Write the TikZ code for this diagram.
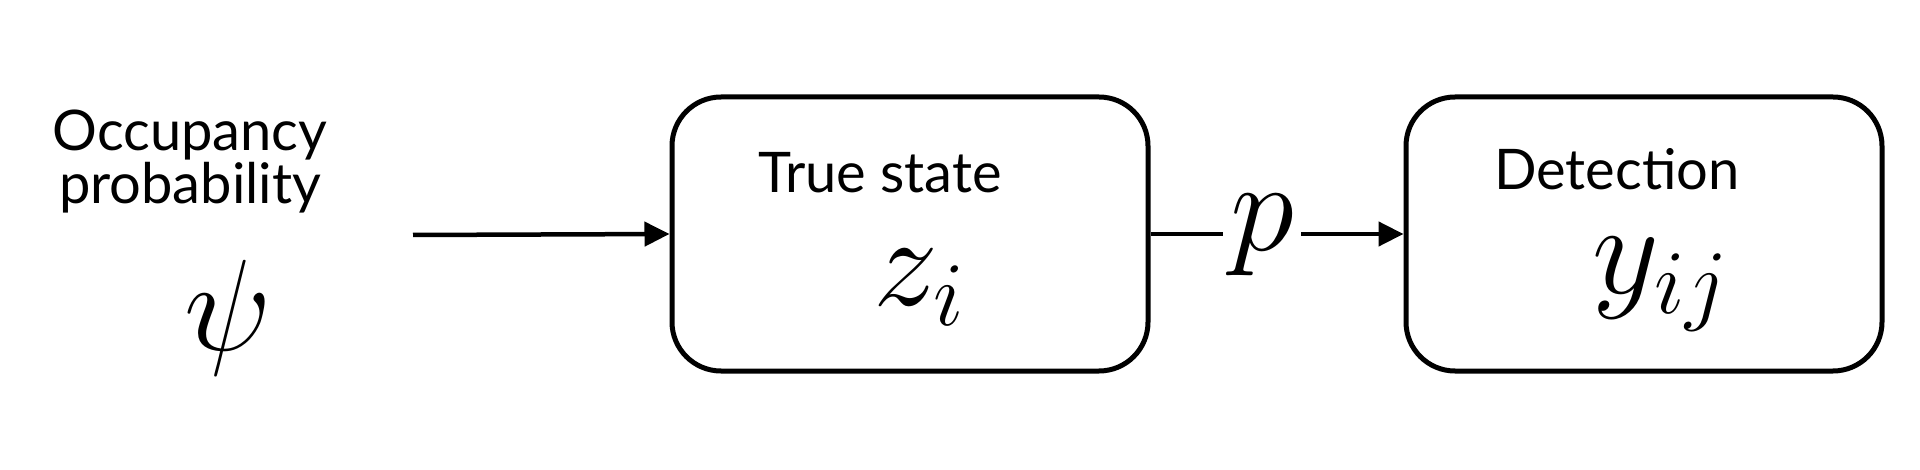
\documentclass[tikz,border=0pt]{standalone}
\usepackage{fix-cm}
\usepackage{fontspec}
\setmainfont{Lato}
\usetikzlibrary{arrows.meta}
\tikzset{
  box/.style={draw, line width=5pt, rounded corners=49pt, minimum width=476pt, minimum height=274pt, inner sep=0pt},
  lbl/.style={font=\fontsize{56}{53}\selectfont, inner sep=0pt, anchor=base},
  mth/.style={font=\fontsize{130}{130}\selectfont, inner sep=0pt, anchor=base},
  conn/.style={line width=4.5pt},
  arr/.style={line width=4.5pt, -{Triangle[length=25pt,width=24pt]}}
}
\begin{document}
\begin{tikzpicture}[x=1pt,y=-1pt]
\useasboundingbox (0,0) rectangle (1920,470);
\node[box] (b1) at (910,234) {};
\node[box] (b2) at (1644,234) {};
\node[lbl, align=center] (occ) at (190,204) {Occupancy\\probability};
\node[mth] (psi) at (228,350) {$\psi$};
\node[lbl] (ts) at (880,193) {True state};
\node[mth] (z) at (919,306) {$z_i$};
\node[lbl] (det) at (1617,190) {Detection};
\node[mth] (y) at (1660,294) {$y_{ij}$};
\node[mth, inner xsep=7pt] (p) at (1262,251) {$p$};
\coordinate (s) at (413,235);
\draw[arr] (s) -- (b1.west);
\draw[conn] (b1.east) -- (p.west |- b1.east);
\draw[arr] (p.east |- b2.west) -- (b2.west);
\end{tikzpicture}
\end{document}
